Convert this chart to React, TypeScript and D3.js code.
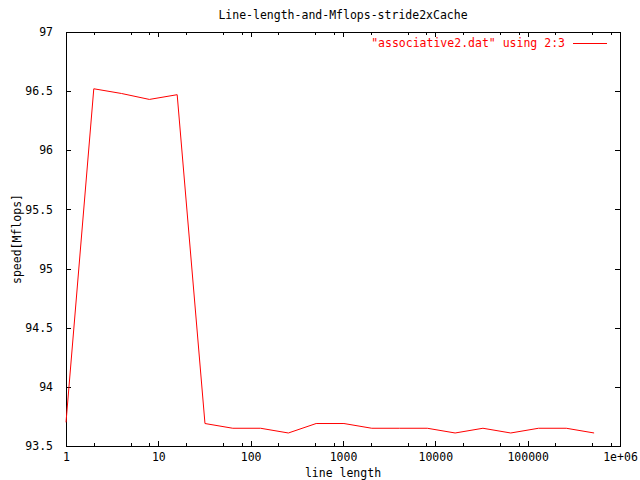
import React, { useEffect, useRef } from "react";
import * as d3 from "d3";

// line length (2^0 .. 2^19) and measured speed
const lineLengths = [1, 2, 4, 8, 16, 32, 64, 128, 256, 512, 1024, 2048, 4096, 8192, 16384, 32768, 65536, 131072, 262144, 524288];
const speeds = [93.70, 96.52, 96.48, 96.43, 96.47, 93.69, 93.65, 93.65, 93.61, 93.69, 93.69, 93.65, 93.65, 93.65, 93.61, 93.65, 93.61, 93.65, 93.65, 93.61];

const xMajorTicks = [1, 10, 100, 1000, 10000, 100000, 1000000];
const xTickLabels = ["1", "10", "100", "1000", "10000", "100000", "1e+06"];
const xMinorFactors = [2, 5, 8];
const yTicks = [93.5, 94, 94.5, 95, 95.5, 96, 96.5, 97];

const chartTitle = "Line-length-and-Mflops-stride2xCache";
const xTitle = "line length";
const yTitle = "speed[Mflops]";
const legendText = "\"associative2.dat\" using 2:3";

const FONT = "'DejaVu Sans Mono', monospace";

export default function App() {
  const ref = useRef<SVGSVGElement | null>(null);

  useEffect(() => {
    document.body.style.margin = "0";
    const width = 640, height = 480;
    const margin = { top: 32, right: 20, bottom: 34, left: 66 };
    const w = width - margin.left - margin.right;
    const h = height - margin.top - margin.bottom;

    const svg = d3.select(ref.current);
    svg.selectAll("*").remove();
    svg.style("font-family", FONT);

    const g = svg.append("g").attr("transform", "translate(" + margin.left + "," + margin.top + ")");

    const x = d3.scaleLog().domain([1, 1e6]).range([0, w]);
    const y = d3.scaleLinear().domain([93.5, 97]).range([h, 0]);

    const minors: number[] = [];
    xMajorTicks.slice(0, -1).forEach(d => xMinorFactors.forEach(f => minors.push(d * f)));

    const styleAxis = (sel: any) => {
      sel.select(".domain").remove();
      sel.selectAll("line").attr("stroke", "#000").attr("shape-rendering", "crispEdges");
      sel.selectAll("text").attr("fill", "#000").style("font-family", FONT).style("font-size", "11.5px");
    };

    // bottom axis with labels
    g.append("g")
      .attr("transform", "translate(0," + h + ")")
      .call(d3.axisBottom(x).tickValues(xMajorTicks).tickSizeInner(-5).tickSizeOuter(0).tickPadding(7)
        .tickFormat((d, i) => xTickLabels[i]))
      .call(styleAxis);
    g.append("g")
      .attr("transform", "translate(0," + h + ")")
      .call(d3.axisBottom(x).tickValues(minors).tickSizeInner(-3).tickSizeOuter(0).tickFormat(() => ""))
      .call(styleAxis);
    // top mirror
    g.append("g")
      .call(d3.axisTop(x).tickValues(xMajorTicks).tickSizeInner(-5).tickSizeOuter(0).tickFormat(() => ""))
      .call(styleAxis);
    g.append("g")
      .call(d3.axisTop(x).tickValues(minors).tickSizeInner(-3).tickSizeOuter(0).tickFormat(() => ""))
      .call(styleAxis);

    // left axis with labels
    g.append("g")
      .call(d3.axisLeft(y).tickValues(yTicks).tickSizeInner(-5).tickSizeOuter(0).tickPadding(13)
        .tickFormat(d => String(d)))
      .call(styleAxis);
    // right mirror
    g.append("g")
      .attr("transform", "translate(" + w + ",0)")
      .call(d3.axisRight(y).tickValues(yTicks).tickSizeInner(-5).tickSizeOuter(0).tickFormat(() => ""))
      .call(styleAxis);

    // frame
    g.append("rect")
      .attr("x", 0).attr("y", 0).attr("width", w).attr("height", h)
      .attr("fill", "none").attr("stroke", "#000").attr("shape-rendering", "crispEdges");

    // data line
    const pts = lineLengths.map((d, i) => [d, speeds[i]] as [number, number]);
    const line = d3.line<[number, number]>().x(d => x(d[0])).y(d => y(d[1]));
    g.append("path")
      .datum(pts)
      .attr("d", line)
      .attr("fill", "none")
      .attr("stroke", "#ff0000")
      .attr("stroke-width", 1);

    // legend
    g.append("text")
      .attr("x", 499).attr("y", 15)
      .attr("text-anchor", "end")
      .attr("fill", "#ff0000")
      .style("font-size", "11.5px")
      .text(legendText);
    g.append("line")
      .attr("x1", 507).attr("x2", 541).attr("y1", 11.5).attr("y2", 11.5)
      .attr("stroke", "#ff0000").attr("shape-rendering", "crispEdges");

    // title
    svg.append("text")
      .attr("x", margin.left + w / 2).attr("y", 19)
      .attr("text-anchor", "middle")
      .style("font-size", "11.5px")
      .text(chartTitle);

    // x label
    svg.append("text")
      .attr("x", margin.left + w / 2).attr("y", 477)
      .attr("text-anchor", "middle")
      .style("font-size", "11.5px")
      .text(xTitle);

    // y label
    svg.append("text")
      .attr("transform", "translate(21," + (margin.top + h / 2) + ") rotate(-90)")
      .attr("text-anchor", "middle")
      .style("font-size", "11.5px")
      .text(yTitle);
  }, []);

  return <svg ref={ref} width={640} height={480} style={{ display: "block", background: "#fff" }}></svg>;
}
